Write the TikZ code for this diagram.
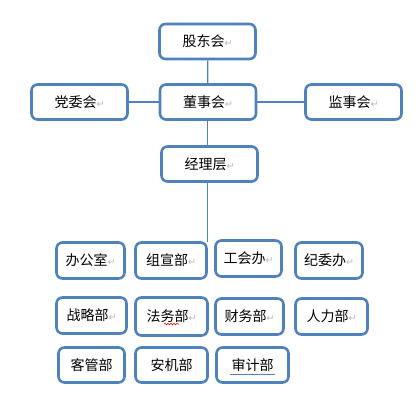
\documentclass[tikz,border=0pt]{standalone}
\usepackage{fontspec}
\newfontfamily\cjk{Noto Sans CJK SC}
\newfontfamily\symf{DejaVu Sans}
\usepackage{xcolor}
\usepackage{tikz}
\usetikzlibrary{decorations.pathmorphing}
\definecolor{boxblue}{HTML}{4F81BD}
\newcommand{\pmark}{{\symf\color{gray!55}\fontsize{9.5}{9.5}\selectfont ↵}}

\begin{document}
\begin{tikzpicture}[
          x=1pt, y=-1pt,
          box/.style={rectangle, draw=boxblue, line width=2.6pt, rounded corners=6pt, fill=white, minimum width=96pt, minimum height=35pt, inner sep=0pt, font=\cjk\fontsize{14}{14}\selectfont},
          dept/.style={box, minimum height=36pt},
          link/.style={draw=boxblue, line width=1.2pt}
        ]
          \useasboundingbox (0,0) rectangle (419,402);

          % Top management
          \node[box] (gdh) at (207.5, 41.5) {股东会\pmark};
          \node[box] (dwh) at (79.5, 102) {党委会\pmark};
          \node[box] (dsh) at (208, 102) {董事会\pmark};
          \node[box] (jsh) at (353.5, 102) {监事会\pmark};
          \node[box] (jlc) at (209.5, 164) {经理层\pmark};

          % Departments
          \node[dept, minimum width=68pt] (bgs) at (90.5, 260.5) {办公室\pmark};
          \node[dept, minimum width=71pt] (zxb) at (171, 260.5) {组宣部\pmark};
          \node[dept, minimum width=66pt] (ghb) at (248.5, 258.5) {工会办\pmark};
          \node[dept, minimum width=67pt] (jwb) at (329, 260.5) {纪委办\pmark};
          \node[dept, minimum width=70pt] (zlb) at (91.5, 315.5) {战略部\pmark};
          \node[dept, minimum width=72pt, minimum height=38pt] (fwb) at (171.5, 316.5) {法务部\pmark};
          \node[dept, minimum width=68pt] (cwb) at (249.5, 316.5) {财务部\pmark};
          \node[dept, minimum width=72pt] (rlb) at (331.5, 316.5) {人力部\pmark};
          \node[dept, minimum width=66pt, minimum height=35pt] (kgb) at (91.5, 365) {客管部};
          \node[dept, minimum width=72pt, minimum height=35pt] (ajb) at (171.5, 365) {安机部};
          \node[dept, minimum width=72pt, minimum height=35pt] (sjb) at (252.5, 365) {审计部};

          % Connections
          \draw[link] (gdh) -- (dsh);
          \draw[link] (dwh) -- (dsh);
          \draw[link] (dsh) -- (jsh);
          \draw[link] (dsh.south -| gdh) -- (jlc.north -| gdh);
          \coordinate (jl) at (207.5, 242);
          \draw[link] (jlc.south -| jl) -- (jl);

          % Proofing marks
          \draw[red, line width=0.6pt, decorate, decoration={snake, amplitude=0.7pt, segment length=3pt}] (164, 324) -- (179, 324);
          \draw[boxblue, line width=0.7pt] (230, 374.5) -- (275, 374.5);
        \end{tikzpicture}
\end{document}
